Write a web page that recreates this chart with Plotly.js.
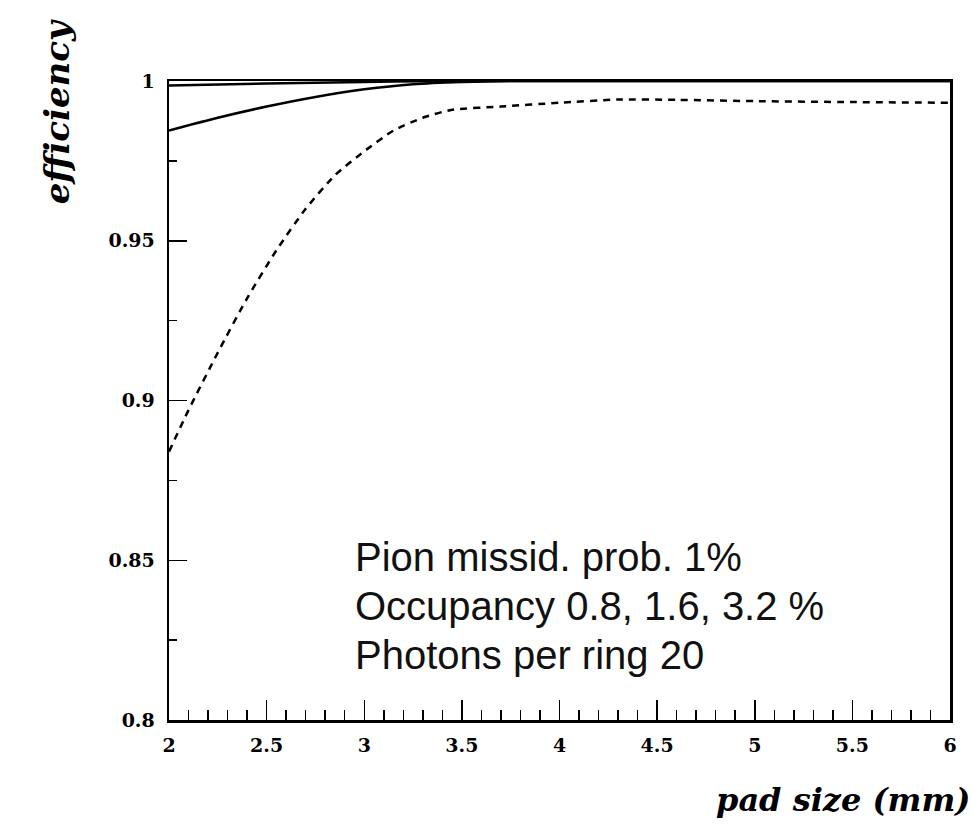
<!DOCTYPE html>
<html>
<head>
<meta charset="utf-8">
<script src="https://cdn.plot.ly/plotly-3.0.1.min.js"></script>
<style>html,body{margin:0;padding:0;background:#fff;}#chart{width:973px;height:836px;}</style>
</head>
<body>
<div id="chart"></div>
<script>
// Occupancy 0.8 % (top solid)
const xLow = [2.0, 2.5, 3.0, 3.3, 3.6, 4.0, 5.0, 6.0];
const yLow = [0.9986, 0.9992, 0.9997, 0.9999, 1.0, 1.0, 1.0, 1.0];
// Occupancy 1.6 % (middle solid)
const xMid = [2.0, 2.25, 2.5, 2.75, 3.0, 3.25, 3.5, 3.75, 4.0, 5.0, 6.0];
const yMid = [0.9845, 0.9885, 0.992, 0.995, 0.9974, 0.999, 0.9997, 1.0, 1.0, 1.0, 1.0];
// Occupancy 3.2 % (dashed)
const xHigh = [2.0, 2.1, 2.25, 2.4, 2.55, 2.7, 2.85, 3.0, 3.15, 3.3, 3.45, 3.7, 4.0, 4.3, 4.6, 5.0, 5.5, 6.0];
const yHigh = [0.884, 0.897, 0.915, 0.932, 0.947, 0.960, 0.9705, 0.978, 0.9845, 0.9885, 0.991, 0.992, 0.9932, 0.9942, 0.9941, 0.9937, 0.9934, 0.9932];

const xTickVals = [2, 2.5, 3, 3.5, 4, 4.5, 5, 5.5, 6];
const xTickText = ['2', '2.5', '3', '3.5', '4', '4.5', '5', '5.5', '6'];
const yTickVals = [0.8, 0.85, 0.9, 0.95, 1];
const yTickText = ['0.8', '0.85', '0.9', '0.95', '1'];

const infoLines = ['Pion missid. prob. 1%', 'Occupancy 0.8, 1.6, 3.2 %', 'Photons per ring 20'];

const lineStyle = {color: '#000', width: 2.5, shape: 'spline', smoothing: 0.6};
const traces = [
  {x: xLow, y: yLow, mode: 'lines', line: Object.assign({}, lineStyle), hoverinfo: 'skip'},
  {x: xMid, y: yMid, mode: 'lines', line: Object.assign({}, lineStyle), hoverinfo: 'skip'},
  {x: xHigh, y: yHigh, mode: 'lines', line: Object.assign({}, lineStyle, {dash: '7px,6px'}), hoverinfo: 'skip'}
];

const tickFont = {family: 'DejaVu Serif, serif', size: 19, color: '#000', weight: 'bold'};
const xTitleFont = {family: 'DejaVu Serif, serif', size: 32, color: '#000', weight: 'bold', style: 'italic'};
const yTitleFont = {family: 'DejaVu Serif, serif', size: 34, color: '#000', weight: 'bold', style: 'italic'};
const infoFont = {family: 'Liberation Sans, Arial, sans-serif', size: 40, color: '#111'};

const infoY = [0.255, 0.178, 0.101];
const annotations = infoLines.map((t, i) => ({
  text: t, xref: 'paper', yref: 'paper', x: 0.2356, y: infoY[i],
  xanchor: 'left', yanchor: 'middle', showarrow: false, font: infoFont
}));
annotations.push({
  text: 'pad size (mm)', xref: 'paper', yref: 'paper', x: 1.028, y: -0.125,
  xanchor: 'right', yanchor: 'middle', showarrow: false, font: xTitleFont
});
annotations.push({
  text: 'efficiency', xref: 'paper', yref: 'paper', x: -0.1434, y: 0.951,
  xanchor: 'center', yanchor: 'middle', textangle: -90, showarrow: false, font: yTitleFont
});

const layout = {
  width: 973, height: 836,
  margin: {l: 169, r: 23, t: 81, b: 116, pad: 0},
  paper_bgcolor: '#fff', plot_bgcolor: '#fff',
  showlegend: false,
  xaxis: {
    range: [2, 6], tickvals: xTickVals, ticktext: xTickText,
    ticks: 'inside', ticklen: 20, tickwidth: 1.5, tickcolor: '#000',
    showline: true, linecolor: '#000', linewidth: 2.5, mirror: true,
    showgrid: false, zeroline: false, tickfont: tickFont, ticklabelstandoff: 7,
    minor: {dtick: 0.1, ticks: 'inside', ticklen: 10, tickwidth: 1.5, tickcolor: '#000', showgrid: false}
  },
  yaxis: {
    range: [0.8, 1.0], tickvals: yTickVals, ticktext: yTickText,
    ticks: 'inside', ticklen: 18, tickwidth: 1.5, tickcolor: '#000',
    showline: true, linecolor: '#000', linewidth: 2.5, mirror: true,
    showgrid: false, zeroline: false, tickfont: tickFont, ticklabelstandoff: 8,
    minor: {dtick: 0.025, ticks: 'inside', ticklen: 8, tickwidth: 1.5, tickcolor: '#000', showgrid: false}
  },
  annotations: annotations
};

Plotly.newPlot('chart', traces, layout, {displayModeBar: false, staticPlot: true});
</script>
</body>
</html>
